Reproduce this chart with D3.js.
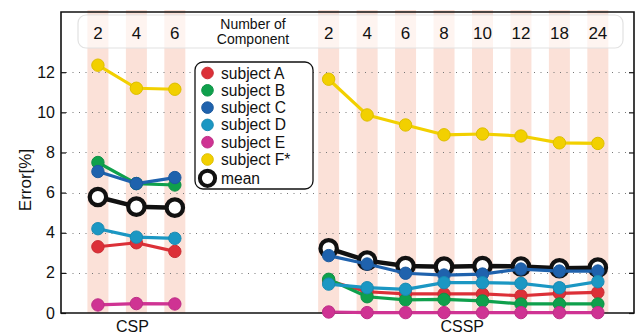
<!DOCTYPE html>
<html><head><meta charset="utf-8">
<script src="https://cdn.jsdelivr.net/npm/d3@7"></script>
<style>body{margin:0;background:#fff}svg{display:block;font-family:"Liberation Sans",Arial,sans-serif}</style>
</head><body><svg id="c" width="640" height="335"></svg>
<script>
const cspComponents = ["2","4","6"];
const csspComponents = ["2","4","6","8","10","12","18","24"];
const seriesNames = ["subject A","subject B","subject C","subject D","subject E","subject F*"];
const seriesColors = ["#dc3038","#0fa04c","#1f62ad","#1b97c3","#cf3393","#f2d000"];
const cspA = [3.3, 3.5, 3.07];
const cspB = [7.5, 6.45, 6.38];
const cspC = [7.05, 6.45, 6.75];
const cspD = [4.2, 3.78, 3.72];
const cspE = [0.4, 0.47, 0.45];
const cspF = [12.35, 11.2, 11.15];
const cspMean = [5.78, 5.3, 5.25];
const csspA = [1.61, 1.06, 0.95, 0.95, 0.95, 0.86, 0.98, 1.03];
const csspB = [1.68, 0.81, 0.65, 0.68, 0.6, 0.45, 0.45, 0.45];
const csspC = [2.86, 2.44, 1.98, 1.89, 1.94, 2.19, 2.09, 2.09];
const csspD = [1.44, 1.26, 1.18, 1.51, 1.51, 1.48, 1.26, 1.56];
const csspE = [0.05, 0.02, 0.02, 0.02, 0.02, 0.02, 0.02, 0.02];
const csspF = [11.65, 9.87, 9.37, 8.88, 8.92, 8.82, 8.48, 8.45];
const csspMean = [3.22, 2.61, 2.34, 2.31, 2.34, 2.32, 2.23, 2.26];
const yTicks = [0, 2, 4, 6, 8, 10, 12];
const groupLabels = ["CSP", "CSSP"];

const svg = d3.select("#c");
const L = 61, R = 634, T = 12, B = 313;
const x = d3.scaleLinear().domain([-0.96, 13.94]).range([L, R]);
const y = d3.scaleLinear().domain([0, 15]).range([B, T]);
const CSSP_OFF = 6;
const cspPos = cspComponents.map((d, i) => i);
const csspPos = csspComponents.map((d, i) => i + CSSP_OFF);
const allPos = cspPos.concat(csspPos);
const allLabels = cspComponents.concat(csspComponents);
const bw = 21;

// bands
svg.append("g").selectAll("rect").data(allPos).join("rect")
  .attr("x", d => x(d) - bw / 2).attr("width", bw)
  .attr("y", 10).attr("height", B - 10)
  .attr("fill", "#fbe1d8");

// header box
svg.append("rect").attr("x", 78).attr("y", 15).attr("width", 545).attr("height", 33)
  .attr("rx", 8).attr("fill", "rgba(255,255,255,0.62)").attr("stroke", "#e2e2e2").attr("stroke-width", 1.2);
svg.append("g").selectAll("text").data(allPos).join("text")
  .attr("x", d => x(d)).attr("y", 39).attr("text-anchor", "middle")
  .attr("font-size", 17).attr("fill", "#111")
  .text((d, i) => allLabels[i]);
svg.append("text").attr("x", 253).attr("y", 29).attr("text-anchor", "middle").attr("font-size", 14).attr("fill", "#111").text("Number of");
svg.append("text").attr("x", 253).attr("y", 44).attr("text-anchor", "middle").attr("font-size", 14).attr("fill", "#111").text("Component");

// gridlines
svg.append("g").selectAll("line").data(yTicks.filter(d => d > 0)).join("line")
  .attr("x1", L + 5).attr("x2", R - 4).attr("y1", d => Math.round(y(d)) + 0.5).attr("y2", d => Math.round(y(d)) + 0.5)
  .attr("stroke", "#777").attr("stroke-width", 1).attr("stroke-dasharray", "1,5.5");

// axes
const yAxisL = d3.axisLeft(y).tickValues(yTicks).tickSize(-5).tickPadding(6).tickFormat(d3.format("d"));
const gL = svg.append("g").attr("transform", `translate(${L},0)`).call(yAxisL);
gL.select(".domain").remove();
gL.selectAll("text").attr("font-size", 16).attr("fill", "#111").attr("font-family", "Liberation Sans, Arial, sans-serif");
gL.selectAll("line").attr("stroke", "#111").attr("stroke-width", 1.2);
const yAxisR = d3.axisRight(y).tickValues(yTicks).tickSize(-5).tickFormat("");
const gR = svg.append("g").attr("transform", `translate(${R},0)`).call(yAxisR);
gR.select(".domain").remove();
gR.selectAll("line").attr("stroke", "#111").attr("stroke-width", 1.2);

// frame
svg.append("path").attr("d", `M${L},${T}H${R}V${B}H${L}Z`).attr("fill", "none").attr("stroke", "#111").attr("stroke-width", 1.6);

// series
const cspSeries = [cspA, cspB, cspC, cspD, cspE, cspF];
const csspSeries = [csspA, csspB, csspC, csspD, csspE, csspF];
const line = d3.line().x(d => x(d[0])).y(d => y(d[1]));
function drawGroup(pos, vals, color, isMean) {
  const pts = pos.map((p, i) => [p, vals[i]]);
  const g = svg.append("g");
  g.append("path").attr("d", line(pts)).attr("fill", "none")
    .attr("stroke", isMean ? "#111" : color).attr("stroke-width", isMean ? 4.5 : 3.2).attr("stroke-linejoin", "round");
  g.selectAll("circle").data(pts).join("circle")
    .attr("cx", d => x(d[0])).attr("cy", d => y(d[1]))
    .attr("r", isMean ? 8.2 : 6.2)
    .attr("fill", isMean ? "#fff" : color)
    .attr("stroke", isMean ? "#111" : d3.color(color).darker(0.25))
    .attr("stroke-width", isMean ? 4.2 : 1);
}
drawGroup(cspPos, cspMean, "#111", true);
drawGroup(csspPos, csspMean, "#111", true);
seriesNames.forEach((n, k) => {
  drawGroup(cspPos, cspSeries[k], seriesColors[k], false);
  drawGroup(csspPos, csspSeries[k], seriesColors[k], false);
});

// axis labels
svg.append("text").attr("transform", "translate(31,180) rotate(-90)").attr("text-anchor", "middle")
  .attr("font-size", 17).attr("fill", "#111").text("Error[%]");
svg.append("text").attr("x", x(1) - 4).attr("y", 332).attr("text-anchor", "middle").attr("font-size", 16).attr("fill", "#111").text(groupLabels[0]);
svg.append("text").attr("x", x(9.5) - 1).attr("y", 332).attr("text-anchor", "middle").attr("font-size", 16).attr("fill", "#111").text(groupLabels[1]);

// legend
const lg = svg.append("g");
lg.append("rect").attr("x", 195).attr("y", 62).attr("width", 118).attr("height", 127).attr("rx", 8)
  .attr("fill", "#fff").attr("stroke", "#111").attr("stroke-width", 1.3);
const legItems = seriesNames.map((n, k) => ({ name: n, color: seriesColors[k], mean: false }))
  .concat([{ name: "mean", color: "#111", mean: true }]);
legItems.forEach((it, i) => {
  const cy = 73 + i * 17.3 + (it.mean ? 1.5 : 0);
  lg.append("circle").attr("cx", 207.5).attr("cy", cy).attr("r", it.mean ? 7.6 : 5.8)
    .attr("fill", it.mean ? "#fff" : it.color).attr("stroke", it.mean ? "#111" : d3.color(it.color).darker(0.25))
    .attr("stroke-width", it.mean ? 4 : 1);
  lg.append("text").attr("x", 221).attr("y", cy + 5.5).attr("font-size", 15.6).attr("fill", "#111").text(it.name);
});
</script></body></html>
